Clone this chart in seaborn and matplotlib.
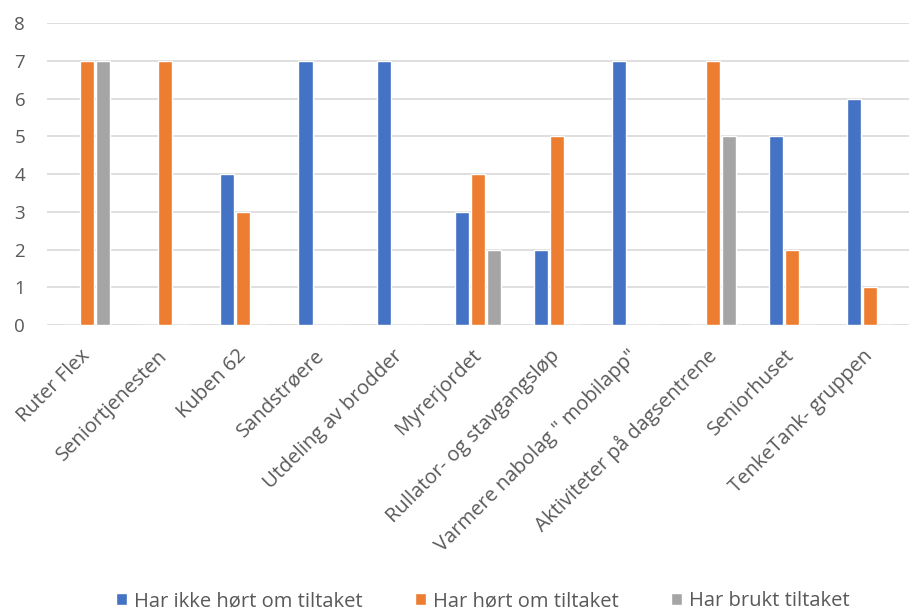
import matplotlib
matplotlib.use("Agg")
import matplotlib.pyplot as plt
import seaborn as sns
import pandas as pd

categories = [
    "Ruter Flex", "Seniortjenesten", "Kuben 62", "Sandstrøere",
    "Utdeling av brodder", "Myrerjordet", "Rullator- og stavgangsløp",
    'Varmere nabolag " mobilapp"', "Aktiviteter på dagsentrene",
    "Seniorhuset", "TenkeTank- gruppen",
]
series_names = ["Har ikke hørt om tiltaket", "Har hørt om tiltaket", "Har brukt tiltaket"]
har_ikke_hort = [0, 0, 4, 7, 7, 3, 2, 7, 0, 5, 6]
har_hort = [7, 7, 3, 0, 0, 4, 5, 0, 7, 2, 1]
har_brukt = [7, 0, 0, 0, 0, 2, 0, 0, 5, 0, 0]
y_ticks = [0, 1, 2, 3, 4, 5, 6, 7, 8]

colors = ["#4472C4", "#ED7D31", "#A5A5A5"]
text_color = "#595959"

df = pd.DataFrame({
    "tiltak": categories * 3,
    "serie": [s for s in series_names for _ in categories],
    "antall": har_ikke_hort + har_hort + har_brukt,
})

sns.set_theme(style="white")
plt.rcParams["font.family"] = ["Open Sans", "DejaVu Sans"]

fig = plt.figure(figsize=(9.11, 6.11), dpi=100)
ax = fig.add_axes([0.052, 0.468, 0.946, 0.494])

sns.barplot(data=df, x="tiltak", y="antall", hue="serie", order=categories,
            hue_order=series_names, palette=colors, width=0.615, gap=0.125,
            saturation=1, ax=ax, legend=True)

ax.set_xlim(-0.5, len(categories) - 0.5)
ax.set_ylim(0, 8)
ax.set_yticks(y_ticks)
ax.yaxis.grid(True, color="#D9D9D9", linewidth=1.2)
ax.set_axisbelow(True)
for s in ax.spines.values():
    s.set_visible(False)
ax.set_xlabel("")
ax.set_ylabel("")
ax.tick_params(axis="both", length=0, colors=text_color)
ax.tick_params(axis="y", pad=16, labelsize=13.5)
ax.tick_params(axis="x", pad=20, labelsize=14.5)
plt.setp(ax.get_xticklabels(), rotation=45, ha="right", va="center",
         rotation_mode="anchor")

handles, labels = ax.get_legend_handles_labels()
ax.legend(handles, labels, loc="lower center", bbox_to_anchor=(0.53, -0.03),
          bbox_transform=fig.transFigure, ncol=3, frameon=False,
          fontsize=14.5, labelcolor=text_color, handlelength=0.55,
          handleheight=0.55, handletextpad=0.35, columnspacing=2.6)

fig.savefig("out.png", dpi=100)
